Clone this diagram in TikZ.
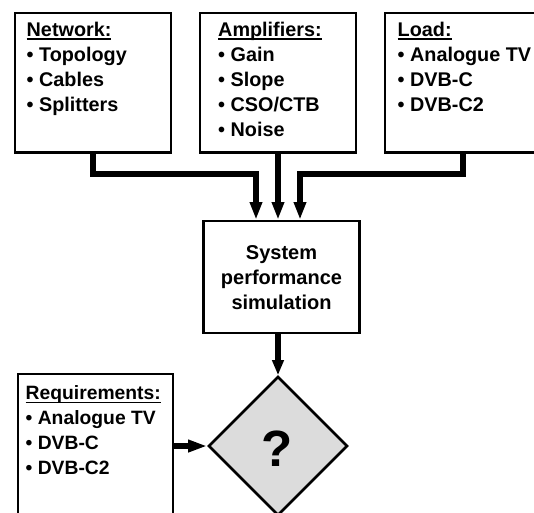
\documentclass[tikz,border=0pt]{standalone}
\usepackage{fontspec}
\setmainfont{Liberation Sans}
\usetikzlibrary{arrows.meta,shapes.geometric}
\definecolor{qgray}{RGB}{220,220,220}
\newcommand{\hdr}[1]{\leavevmode\setbox0\hbox{#1}\rlap{\rule[-3.8pt]{\wd0}{1.8pt}}\box0}
\newcommand{\lst}[2]{\parbox[t]{#1}{\raggedright #2}}
\newcommand{\ctr}[2]{\parbox[t]{#1}{\centering #2}}
\begin{document}
\begin{tikzpicture}[x=1pt,y=-1pt,
  box/.style={draw, line width=2.6pt, inner sep=0pt, minimum width=156pt},
  topbox/.style={box, minimum height=139.7pt},
  txt/.style={inner sep=0pt, anchor=base west, font=\bfseries\fontsize{19.8}{25}\selectfont},
  conn/.style={line width=6.5pt, -{Triangle[length=17.5pt,width=11.5pt]}},
  connb/.style={line width=6pt, -{Triangle[length=15pt,width=11pt]}},
  connc/.style={line width=5.5pt, -{Triangle[length=19pt,width=11.5pt]}}
]
\useasboundingbox (0,0) rectangle (534,512);
\clip (0,0) rectangle (534,512);
\fill[white] (0,0) rectangle (534,512);

\node[topbox] (net) at (93,82.65) {};
\node[topbox] (amp) at (278,82.65) {};
\node[topbox] (load) at (463,82.65) {};
\node[box, minimum height=112pt] (sys) at (281.5,277) {};
\node[shape=diamond, draw, line width=2.6pt, fill=qgray, inner sep=0pt,
      minimum width=139pt, minimum height=139pt] (q) at (278,446) {};
\node[box, minimum width=155pt, minimum height=186pt] (req) at (95.5,467) {};

\node[txt] (netT) at (26.5,36) {\lst{140pt}{\hdr{Network:}\\• Topology\\• Cables\\• Splitters}};
\node[txt] (ampT) at (218,36) {\lst{140pt}{\hdr{Amplifiers:}\\• Gain\\• Slope\\• CSO/CTB\\• Noise}};
\node[txt] (loadT) at (397.5,36) {\lst{140pt}{\hdr{Load:}\\• Analogue TV\\• DVB-C\\• DVB-C2}};
\node[txt, font=\bfseries\fontsize{19.3}{25}\selectfont] (reqT) at (25.5,399.5) {\lst{145pt}{\hdr{Requirements:}\\• Analogue TV\\• DVB-C\\• DVB-C2}};
\node[txt, anchor=base, font=\bfseries\fontsize{20}{25}\selectfont] (sysT) at (281.5,259.5) {\ctr{150pt}{System\\performance\\simulation}};
\node[inner sep=0pt, anchor=base, font=\bfseries\fontsize{51}{51}\selectfont] (qm) at (277,466) {?};

\coordinate (jn) at (256,174);
\coordinate (jl) at (300,174);
\draw[conn] (net.south) |- (jn) -- (jn |- sys.north);
\draw[conn] (amp.south) -- (amp.south |- sys.north);
\draw[conn] (load.south) |- (jl) -- (jl |- sys.north);
\draw[connb] (q.north |- sys.south) -- (q.north);
\draw[connc] (req.east |- q.west) -- (q.west);
\end{tikzpicture}
\end{document}
